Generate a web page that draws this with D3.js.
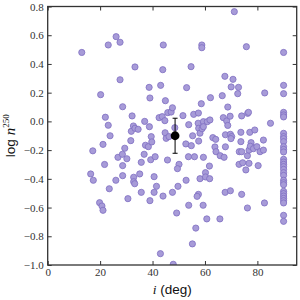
<!DOCTYPE html>
<html>
<head>
<meta charset="utf-8">
<script src="https://cdn.jsdelivr.net/npm/d3@7"></script>
<style>
  html, body { margin: 0; padding: 0; background: #fff; }
  svg { display: block; }
  .tick text { font-family: "Liberation Serif", "DejaVu Serif", serif; font-size: 11px; fill: #333; }
  .tick line { stroke: #333; stroke-width: 1; }
</style>
</head>
<body>
<div id="chart"></div>
<script>
// inclination (deg) and log n^250 of each system
const incl = [
  13.0, 16.4, 17.2, 17.4, 19.8, 20.2, 20.7, 21.1, 21.1, 21.7, 22.0, 23.1, 23.1, 23.5, 23.8,
  26.0, 26.1, 26.8, 27.6, 27.6, 28.6, 28.5, 28.6, 28.6, 29.4, 30.2, 30.6, 31.7, 31.9, 32.2,
  32.7, 33.3, 34.5, 33.3, 32.8, 32.8, 33.2, 35.1, 35.7, 35.7, 36.8, 37.0, 37.3, 38.4, 38.8,
  38.7, 39.0, 39.3, 39.0, 39.5, 39.7, 40.6, 41.0, 41.5, 40.6, 42.5, 43.7, 44.7, 43.1, 43.9,
  44.1, 44.9, 44.0, 43.0, 44.8, 45.2, 46.3, 45.7, 45.8, 47.1, 47.6, 48.5, 47.6, 49.2, 49.7,
  50.1, 49.5, 47.9, 51.6, 52.7, 52.8, 53.0, 53.7, 53.8, 53.8, 54.7, 54.8, 55.3, 55.2, 55.7,
  56.0, 56.5, 57.5, 57.4, 57.6, 57.6, 58.1, 57.5, 57.0, 58.1, 58.6, 58.8, 58.8, 58.9, 59.4,
  59.4, 59.4, 59.3, 60.2, 60.2, 60.9, 61.9, 61.8, 60.7, 61.7, 62.1, 63.0, 64.1, 63.8, 64.2,
  65.8, 65.7, 66.6, 67.0, 67.3, 67.6, 67.8, 67.8, 67.7, 68.3, 68.7, 68.7, 69.6, 69.7, 70.2,
  69.9, 69.7, 70.0, 70.7, 71.2, 72.8, 72.5, 73.1, 74.0, 73.0, 74.4, 73.7, 73.7, 74.0, 74.0,
  75.6, 75.8, 76.2, 76.3, 76.6, 76.8, 76.8, 76.2, 77.1, 77.6, 77.3, 78.5, 79.0, 79.8, 80.3,
  81.0, 82.3, 82.3, 82.8, 82.7, 85.0,
  90, 90, 90, 90, 90, 90, 90, 90, 90, 90, 90, 90, 90, 90, 90, 90,
  90, 90, 90, 90, 90, 90, 90, 90, 90, 90, 90, 90, 90, 90, 90
];
const logN = [
  0.48, -0.366, -0.205, -0.41, -0.566, 0.186, -0.589, -0.619, -0.16, -0.30, 0.029, 0.532, -0.027, -0.469, -0.10,
  -0.41, 0.59, -0.25, 0.551, 0.29, 0.102, -0.229, -0.308, -0.378, -0.187, -0.26, -0.538, -0.134, -0.069, 0.038,
  -0.032, -0.048, -0.055, 0.379, -0.389, -0.42, -0.434, -0.366, -0.285, -0.494, -0.229, 0.0, -0.166, -0.176, -0.037,
  0.237, 0.163, -0.267, -0.552, -0.106, -0.143, -0.385, -0.246, -0.452, -0.494, 0.026, 0.033, 0.005, 0.251, 0.36,
  0.532, 0.144, -0.52, -0.921, -0.079, -0.118, -0.106, -0.269, 0.061, 0.065, 0.095, -0.044, -0.494, -0.638, -0.452,
  -0.299, -0.329, -0.995, 0.04, -0.157, -0.41, 0.235, -0.246, -0.023, -0.584, 0.381, -0.169, -0.10, -0.853, 0.049,
  -0.246, -0.743, 0.058, -0.013, -0.048, -0.137, -0.082, -0.508, -0.522, -0.399, 0.123, 0.532, 0.513, -0.051, -0.002,
  -0.037, -0.25, -0.584, -0.357, -0.387, -0.002, 0.01, -0.399, -0.679, -0.311, 0.165, -0.113, -0.125, -0.178, -0.211,
  -0.239, -0.679, 0.179, 0.026, -0.25, 0.314, -0.093, -0.177, -0.494, 0.003, -0.028, 0.10, 0.036, -0.09, -0.106,
  -0.12, -0.483, 0.24, 0.293, 0.764, 0.237, 0.193, -0.211, -0.211, -0.299, -0.288, -0.076, -0.141, 0.038, -0.508,
  -0.338, 0.52, -0.239, 0.056, 0.063, -0.2, -0.292, -0.603, -0.076, -0.148, -0.173, -0.19, -0.06, -0.176, -0.308,
  -0.211, -0.2, -0.13, 0.198, -0.568, -0.013,
  0.48, 0.251, 0.193, 0.063, 0.045, 0.031, -0.083, -0.106, -0.12, -0.141, -0.176, -0.195, -0.213, -0.264, -0.283, -0.299,
  -0.315, -0.334, -0.357, -0.376, -0.41, -0.427, -0.441, -0.487, -0.503, -0.52, -0.536, -0.552, -0.568, -0.654, -0.696
];

// the mean with its error bar
const meanIncl = [48.6];
const meanLogN = [-0.10];
const meanErr = [0.122];

const xTicks = [0, 20, 40, 60, 80];
const yTicks = [-1.0, -0.8, -0.6, -0.4, -0.2, 0.0, 0.2, 0.4, 0.6, 0.8];

const widthSvg = 300;
const heightSvg = 300;
const margin = { top: 6.5, right: 3.3, bottom: 35, left: 47.7 };
const widthChart = widthSvg - margin.left - margin.right;
const heightChart = heightSvg - margin.top - margin.bottom;

const points = incl.map((d, i) => ({ x: d, y: logN[i] }));

const scaleX = d3.scaleLinear().domain([0, 95]).range([0, widthChart]);
const scaleY = d3.scaleLinear().domain([-1.0, 0.8]).range([heightChart, 0]);

const svg = d3.select('#chart').append('svg')
  .attr('width', widthSvg)
  .attr('height', heightSvg);

const groupChart = svg.append('g')
  .attr('transform', `translate(${margin.left}, ${margin.top})`);

const clip = groupChart.append('clipPath').attr('id', 'plot-clip');
clip.append('rect').attr('width', widthChart).attr('height', heightChart);

// points
groupChart.append('g')
  .attr('clip-path', 'url(#plot-clip)')
  .selectAll('circle')
  .data(points)
  .enter()
  .append('circle')
  .attr('cx', d => scaleX(d.x))
  .attr('cy', d => scaleY(d.y))
  .attr('r', 3.1)
  .attr('fill', '#a79bd8')
  .attr('stroke', '#7f6ec2')
  .attr('stroke-width', 0.8);

// mean + error bar
const groupMean = groupChart.append('g');
meanIncl.forEach((mx, i) => {
  const cx = scaleX(mx);
  const top = scaleY(meanLogN[i] + meanErr[i]);
  const bot = scaleY(meanLogN[i] - meanErr[i]);
  groupMean.append('line').attr('x1', cx).attr('x2', cx).attr('y1', top).attr('y2', bot)
    .attr('stroke', '#000').attr('stroke-width', 1);
  [top, bot].forEach(yy => {
    groupMean.append('line').attr('x1', cx - 2.5).attr('x2', cx + 2.5).attr('y1', yy).attr('y2', yy)
      .attr('stroke', '#000').attr('stroke-width', 1);
  });
  groupMean.append('circle').attr('cx', cx).attr('cy', scaleY(meanLogN[i])).attr('r', 4.4).attr('fill', '#000');
});

// axes, ticks pointing inward on all sides
const fmtY = d3.format('.1f');
const axisLeft = d3.axisLeft(scaleY).tickValues(yTicks).tickFormat(fmtY).tickSizeInner(-4).tickSizeOuter(0).tickPadding(4);
const axisRight = d3.axisRight(scaleY).tickValues(yTicks).tickFormat('').tickSizeInner(-4).tickSizeOuter(0);
const axisBottom = d3.axisBottom(scaleX).tickValues(xTicks).tickFormat(d3.format('d')).tickSizeInner(-4).tickSizeOuter(0).tickPadding(3);
const axisTop = d3.axisTop(scaleX).tickValues(xTicks).tickFormat('').tickSizeInner(-4).tickSizeOuter(0);

groupChart.append('g').call(axisLeft);
groupChart.append('g').attr('transform', `translate(${widthChart}, 0)`).call(axisRight);
groupChart.append('g').attr('transform', `translate(0, ${heightChart})`).call(axisBottom);
groupChart.append('g').call(axisTop);
groupChart.selectAll('.domain').remove();

groupChart.append('rect')
  .attr('width', widthChart)
  .attr('height', heightChart)
  .attr('fill', 'none')
  .attr('stroke', '#333')
  .attr('stroke-width', 1.3);

// axis labels
const xLabel = svg.append('text')
  .attr('x', margin.left + widthChart / 2)
  .attr('y', 294)
  .attr('text-anchor', 'middle')
  .attr('font-size', 13.5)
  .attr('fill', '#111');
xLabel.append('tspan').attr('font-family', 'Liberation Serif, serif').attr('font-style', 'italic').text('i');
xLabel.append('tspan').attr('font-family', 'Liberation Sans, Arial, sans-serif').text(' (deg)');

const yLabel = svg.append('text')
  .attr('transform', `translate(15, ${margin.top + heightChart / 2}) rotate(-90)`)
  .attr('text-anchor', 'middle')
  .attr('font-size', 13.5)
  .attr('fill', '#111');
yLabel.append('tspan').attr('font-family', 'Liberation Sans, Arial, sans-serif').text('log ');
yLabel.append('tspan').attr('font-family', 'Liberation Serif, serif').attr('font-style', 'italic').attr('font-size', 15).text('n');
yLabel.append('tspan').attr('font-family', 'Liberation Serif, serif').attr('font-size', 9).attr('dy', -6).text('250');
</script>
</body>
</html>
